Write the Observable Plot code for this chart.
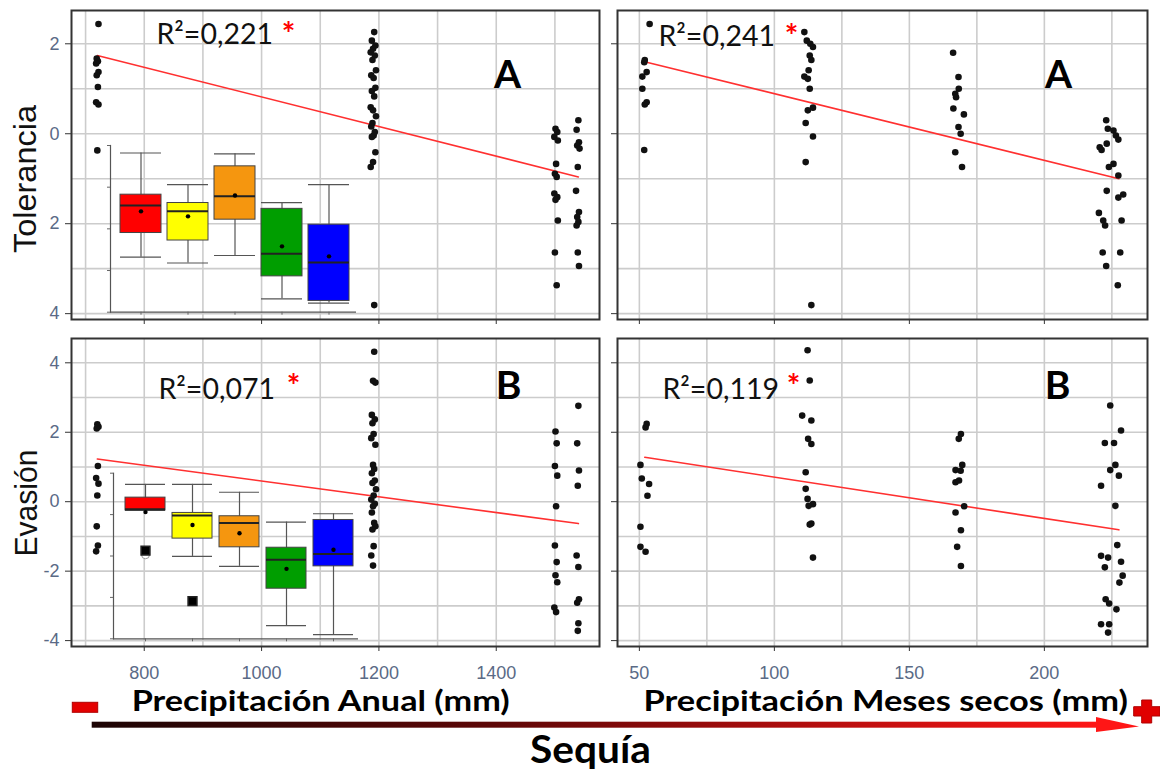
<!DOCTYPE html>
<html>
<head>
<meta charset="utf-8">
<script src="https://cdn.jsdelivr.net/npm/d3@7"></script>
<script src="https://cdn.jsdelivr.net/npm/@observablehq/plot@0.6"></script>
<style>
  html, body { margin: 0; padding: 0; background: #fff; }
  #chart { position: relative; width: 1160px; height: 776px; overflow: hidden; background: #fff; }
  #chart svg { position: absolute; }
</style>
</head>
<body>
<div id="chart"></div>
<script>
// ---------------- DATA ----------------
// Panel A-left: Tolerancia vs Precipitación Anual (mm)
const tolAnualX = [722,719,721,718,722,719,721,718,722,720,
  1192,1188,1194,1190,1186,1193,1189,1195,1187,1191,1194,1188,1192,1186,1190,1195,1189,1187,1193,1191,1188,1194,1190,1186,1192,
  1501,1504,1499,1505,1502,1500,1503,1499,1504,1501,1505,1500,1503,
  1540,1537,1541,1538,1542,1539,1536,1541,1538,1540,1537,1539,1541];
const tolAnualY = [2.44,1.67,1.61,1.56,1.37,1.30,1.04,0.70,0.65,-0.37,
  2.26,2.07,1.96,1.89,1.81,1.74,1.64,1.41,1.30,1.24,1.02,0.95,0.83,0.59,0.52,0.39,0.24,0.16,0.04,-0.04,-0.07,-0.41,-0.63,-0.74,-3.81,
  0.11,0.04,-0.07,-0.15,-0.67,-0.89,-0.96,-1.33,-1.41,-1.47,-1.93,-2.64,-3.37,
  0.30,0.09,-0.19,-0.26,-0.33,-0.74,-1.27,-1.74,-1.85,-1.96,-2.04,-2.64,-2.94];
// Panel A-right: Tolerancia vs Precipitación Meses secos (mm)
const tolSecosX = [53.8,52.0,51.8,52.7,51.1,51.1,52.7,52.0,51.8,
  111.1,112.0,113.3,114.3,113.1,113.7,112.7,111.1,112.4,113.1,114.3,112.4,111.6,114.3,111.6,113.7,
  166.2,168.2,168.3,167.0,167.3,166.3,170.2,168.2,169.0,167.0,169.5,
  222.9,223.5,225.6,226.5,227.4,220.5,221.2,223.1,225.6,223.9,227.4,223.1,227.4,229.2,220.2,221.8,222.5,228.6,221.6,228.1,222.9,227.2];
const tolSecosY = [2.44,1.64,1.59,1.37,1.27,1.00,0.70,0.65,-0.36,
  2.26,2.07,2.00,1.93,1.74,1.64,1.41,1.27,1.22,1.00,0.58,0.52,0.24,-0.06,-0.63,-3.81,
  1.80,1.26,1.00,0.89,0.81,0.56,0.43,0.15,0.00,-0.41,-0.74,
  0.30,0.11,0.07,-0.04,-0.13,-0.30,-0.36,-0.22,-0.67,-0.74,-0.93,-1.27,-1.42,-1.35,-1.76,-1.93,-2.04,-1.93,-2.64,-2.64,-2.94,-3.37];
// Panel B-left: Evasión vs Precipitación Anual (mm)
const evaAnualX = [720,722,719,721,718,722,720,719,721,718,
  1192,1190,1194,1188,1193,1189,1191,1187,1194,1190,1192,1188,1193,1189,1195,1191,1187,1193,1190,1188,1192,1194,1189,1191,1187,1190,
  1501,1503,1500,1504,1502,1500,1503,1501,1504,1499,1502,
  1540,1538,1541,1539,1537,1540,1541,1538,1540,1539];
const evaAnualY = [2.23,2.16,2.11,1.03,0.68,0.52,0.18,-0.71,-1.26,-1.43,
  4.32,3.48,3.43,2.50,2.37,2.26,1.95,1.83,1.64,1.06,0.94,0.82,0.61,0.54,0.36,0.18,0.06,-0.06,-0.13,-0.31,-0.61,-0.71,-0.80,-1.28,-1.55,-1.84,
  2.02,1.68,1.03,0.75,-0.13,-1.26,-1.74,-2.12,-2.32,-3.05,-3.18,
  2.76,1.68,0.90,0.46,-1.55,-1.88,-2.81,-2.91,-3.50,-3.72];
// Panel B-right: Evasión vs Precipitación Meses secos (mm)
const evaSecosX = [52.7,52.3,50.4,50.9,53.6,53.0,50.4,50.4,52.3,
  112.3,113.1,110.3,113.7,112.5,113.7,111.6,111.6,112.3,114.3,112.7,113.7,113.1,114.3,
  169.1,168.3,167.1,169.6,169.0,167.1,168.4,170.3,167.1,169.1,167.7,169.1,
  224.4,228.4,222.4,225.8,226.3,224.4,227.6,221.0,226.3,227.0,221.0,223.6,228.4,222.4,229.0,227.8,222.7,224.0,226.7,221.0,224.0,223.6];
const evaSecosY = [2.24,2.14,1.06,0.67,0.51,0.17,-0.72,-1.30,-1.44,
  4.36,3.49,2.48,2.34,1.81,1.66,0.85,0.37,0.08,-0.07,-0.12,-0.63,-0.66,-1.61,
  1.95,1.81,0.91,1.06,0.89,0.56,0.61,-0.13,-0.31,-0.82,-1.30,-1.85,
  2.77,2.05,1.69,1.69,1.06,0.91,0.75,0.46,-0.12,-1.25,-1.56,-1.61,-1.73,-1.89,-2.13,-2.33,-2.81,-2.93,-3.10,-3.53,-3.53,-3.77];

// Regression lines (end points)
const fitTolAnualX = [720, 1540],  fitTolAnualY = [1.74, -0.96];
const fitTolSecosX = [52.7, 227.6], fitTolSecosY = [1.59, -1.00];
const fitEvaAnualX = [720, 1540],  fitEvaAnualY = [1.23, -0.63];
const fitEvaSecosX = [52.0, 227.6], fitEvaSecosY = [1.28, -0.81];

// R² labels
const r2Labels = ["R²=0,221", "R²=0,241", "R²=0,071", "R²=0,119"];
const panelLetters = ["A", "A", "B", "B"];

// Axis ticks
const anualMajor = [800, 1000, 1200, 1400];
const anualMinor = [700, 900, 1100, 1300, 1500];
const secosMajor = [50, 100, 150, 200];
const secosMinor = [75, 125, 175, 225];
const tolMajor = [2, 0, -2, -4];
const tolMinor = [1, -1, -3];
const evaMajor = [4, 2, 0, -2, -4];
const evaMinor = [3, 1, -1, -3];

// Inset box plots (5 groups)
const groups = ["G1", "G2", "G3", "G4", "G5"];
const groupColors = ["#ff0000", "#ffff00", "#f5960f", "#009e00", "#0000ff"];
const tolBoxHi   = [-0.18, -0.94, -0.20, -1.37, -0.94];
const tolBoxQ3   = [-1.18, -1.38, -0.50, -1.52, -1.90];
const tolBoxMed  = [-1.44, -1.58, -1.22, -2.60, -2.81];
const tolBoxMean = [-1.58, -1.70, -1.20, -2.42, -2.66];
const tolBoxQ1   = [-2.10, -2.28, -1.78, -3.14, -3.73];
const tolBoxLo   = [-2.68, -2.82, -2.64, -3.68, -3.78];
const evaBoxHi   = [-0.27, -0.27, -0.46, -1.18, -0.98];
const evaBoxQ3   = [-0.59, -0.96, -1.04, -1.80, -1.13];
const evaBoxMed  = [-0.87, -1.02, -1.20, -2.09, -1.95];
const evaBoxMean = [-0.94, -1.25, -1.45, -2.31, -1.85];
const evaBoxQ1   = [-0.90, -1.58, -1.79, -2.79, -2.25];
const evaBoxLo   = [-0.90, -2.01, -2.25, -3.68, -3.90];
const evaOutGroup = ["G1", "G2"];
const evaOutY = [-1.87, -3.09];
const evaOpenGroup = ["G1"];
const evaOpenY = [-1.97];
const insetTicks = [-4, -3, -2, -1, 0];

// ---------------- DRAWING ----------------
const chart = document.getElementById("chart");
const labelColor = "#5a6a86";
const baseStyle = {background: "transparent", fontFamily: "'Liberation Sans', Arial, sans-serif", fontSize: "18px", overflow: "visible"};

function place(el, left, top) {
  el.style.left = left + "px";
  el.style.top = top + "px";
  chart.appendChild(el);
}

function zipPts(xs, ys) { return xs.map((x, i) => ({x, y: ys[i]})); }

function panel(o) {
  return Plot.plot({
    width: o.width, height: o.height,
    marginLeft: o.ml, marginRight: o.mr, marginTop: o.mt, marginBottom: o.mb,
    x: {domain: o.xDomain},
    y: {domain: o.yDomain},
    style: baseStyle,
    marks: [
      Plot.gridX(o.xMinor.concat(o.xMajor), {stroke: "#cccccc", strokeOpacity: 1, strokeWidth: 1.6}),
      Plot.gridY(o.yMinor.concat(o.yMajor), {stroke: "#cccccc", strokeOpacity: 1, strokeWidth: 1.6}),
      Plot.axisX({ticks: o.xMajor, tickSize: 5, tickPadding: 15, fontSize: 18, stroke: "#333", fill: labelColor,
        label: null, tickFormat: o.xLabels ? (d => String(d)) : (() => "")}),
      Plot.axisY({ticks: o.yMajor, tickSize: 6, tickPadding: 6, fontSize: 18, stroke: "#333", fill: labelColor,
        label: null, tickFormat: o.yFormat || (() => "")}),
      Plot.line(zipPts(o.fitX, o.fitY), {x: "x", y: "y", stroke: "#ff3030", strokeWidth: 1.6}),
      Plot.dot(zipPts(o.px, o.py), {x: "x", y: "y", r: 3.3, fill: "#111", stroke: "none"}),
      Plot.frame({stroke: "#333", strokeWidth: 2}),
      Plot.text([o.r2], {frameAnchor: "top-left", textAnchor: "start", lineAnchor: "bottom",
        dx: o.r2dx, dy: o.r2dy, fontSize: 28.5, fontFamily: "Lato, sans-serif", fill: "#111", text: d => d}),
      Plot.text(["*"], {frameAnchor: "top-left", textAnchor: "middle", lineAnchor: "bottom",
        dx: o.stdx, dy: o.stdy, fontSize: 32, fontWeight: "bold", fontFamily: "Lato, sans-serif", fill: "#ff0000", text: d => d}),
      Plot.text([o.letter], {frameAnchor: "top-left", textAnchor: "middle", lineAnchor: "bottom",
        dx: o.ldx, dy: o.ldy, fontSize: 39, fontWeight: "bold", fontFamily: "Lato, sans-serif", fill: "#000", text: d => d})
    ]
  });
}

function inset(o) {
  const rows = groups.map((g, i) => ({g, color: groupColors[i], hi: o.hi[i], q3: o.q3[i], med: o.med[i],
    mean: o.mean[i], q1: o.q1[i], lo: o.lo[i]}));
  const marks = [
    Plot.ruleX(rows, {x: "g", y1: "lo", y2: "hi", stroke: "#555", strokeWidth: 1.2}),
    Plot.tickY(rows, {x: "g", y: "hi", stroke: "#555", strokeWidth: 1.2}),
    Plot.tickY(rows, {x: "g", y: "lo", stroke: "#555", strokeWidth: 1.2}),
    Plot.barY(rows, {x: "g", y1: "q1", y2: "q3", fill: "color", stroke: "#444", strokeWidth: 1}),
    Plot.tickY(rows, {x: "g", y: "med", stroke: "#222", strokeWidth: 2}),
    Plot.dot(rows, {x: "g", y: "mean", r: 2.2, fill: "#000", stroke: "none"}),
    Plot.frame({anchor: "left", stroke: "#555", strokeWidth: 1.2}),
    Plot.ruleY([-4], {stroke: "#555", strokeWidth: 1.2}),
    Plot.axisY({ticks: insetTicks, tickSize: 3, tickFormat: () => "", stroke: "#666", label: null}),
    Plot.axisX({tickSize: 3, tickFormat: () => "", stroke: "#666", label: null})
  ];
  if (o.outG) {
    marks.push(Plot.dot(o.openG.map((g, i) => ({g, y: o.openY[i]})), {x: "g", y: "y", r: 4, fill: "#fff", stroke: "#999", strokeWidth: 1}));
    marks.push(Plot.dot(o.outG.map((g, i) => ({g, y: o.outY[i]})), {x: "g", y: "y", symbol: "square", r: 5, fill: "#000", stroke: "#222"}));
  }
  return Plot.plot({
    width: o.width, height: o.height,
    marginLeft: o.ml, marginRight: o.mr, marginTop: o.mt, marginBottom: o.mb,
    x: {type: "band", domain: groups, range: o.xRange, padding: o.pad, axis: null},
    y: {domain: [-4, 0], axis: null},
    color: {type: "identity"},
    style: baseStyle,
    marks
  });
}

// Top-left: Tolerancia vs anual
place(panel({width: 600, height: 330, ml: 71, mr: 1, mt: 10, mb: 11,
  xDomain: [676, 1576], yDomain: [-4.13, 2.74],
  xMajor: anualMajor, xMinor: anualMinor, yMajor: tolMajor, yMinor: tolMinor,
  xLabels: false, yFormat: d => String(Math.abs(d)),
  px: tolAnualX, py: tolAnualY, fitX: fitTolAnualX, fitY: fitTolAnualY,
  r2: r2Labels[0], r2dx: 85, r2dy: 33, stdx: 217, stdy: 35, letter: panelLetters[0], ldx: 436, ldy: 77}), 0, 0);

// Top-right: Tolerancia vs meses secos
place(panel({width: 560, height: 330, ml: 17, mr: 13, mt: 10, mb: 11,
  xDomain: [41.9, 238.2], yDomain: [-4.13, 2.74],
  xMajor: secosMajor, xMinor: secosMinor, yMajor: tolMajor, yMinor: tolMinor,
  xLabels: false, yFormat: null,
  px: tolSecosX, py: tolSecosY, fitX: fitTolSecosX, fitY: fitTolSecosY,
  r2: r2Labels[1], r2dx: 41, r2dy: 35, stdx: 174, stdy: 37, letter: panelLetters[1], ldx: 441, ldy: 77}), 600, 0);

// Bottom-left: Evasión vs anual
place(panel({width: 600, height: 360, ml: 71, mr: 1, mt: 8, mb: 44,
  xDomain: [676, 1576], yDomain: [-4.17, 4.70],
  xMajor: anualMajor, xMinor: anualMinor, yMajor: evaMajor, yMinor: evaMinor,
  xLabels: true, yFormat: d => String(d),
  px: evaAnualX, py: evaAnualY, fitX: fitEvaAnualX, fitY: fitEvaAnualY,
  r2: r2Labels[2], r2dx: 87, r2dy: 60, stdx: 222, stdy: 59, letter: panelLetters[2], ldx: 437, ldy: 60}), 0, 330);

// Bottom-right: Evasión vs meses secos
place(panel({width: 560, height: 360, ml: 17, mr: 13, mt: 8, mb: 44,
  xDomain: [41.9, 238.2], yDomain: [-4.17, 4.70],
  xMajor: secosMajor, xMinor: secosMinor, yMajor: evaMajor, yMinor: evaMinor,
  xLabels: true, yFormat: null,
  px: evaSecosX, py: evaSecosY, fitX: fitEvaSecosX, fitY: fitEvaSecosY,
  r2: r2Labels[3], r2dx: 45, r2dy: 60, stdx: 176, stdy: 59, letter: panelLetters[3], ldx: 440, ldy: 60}), 600, 330);

// Insets
place(inset({width: 600, height: 330, ml: 110, mr: 244, mt: 145, mb: 18.3, xRange: [111, 357], pad: 0.13,
  hi: tolBoxHi, q3: tolBoxQ3, med: tolBoxMed, mean: tolBoxMean, q1: tolBoxQ1, lo: tolBoxLo}), 0, 0);
place(inset({width: 600, height: 360, ml: 113, mr: 242, mt: 142.7, mb: 51.7, xRange: [115.8, 362.5], pad: 0.146,
  hi: evaBoxHi, q3: evaBoxQ3, med: evaBoxMed, mean: evaBoxMean, q1: evaBoxQ1, lo: evaBoxLo,
  outG: evaOutGroup, outY: evaOutY, openG: evaOpenGroup, openY: evaOpenY}), 0, 330);

// Decorations: axis titles, bottom labels, drought arrow
const deco = document.createElementNS("http://www.w3.org/2000/svg", "svg");
deco.setAttribute("width", 1160);
deco.setAttribute("height", 776);
deco.style.pointerEvents = "none";
deco.innerHTML = `
  <defs>
    <linearGradient id="sequia" x1="0" x2="1" y1="0" y2="0">
      <stop offset="0" stop-color="#1c0404"/>
      <stop offset="0.4" stop-color="#5e0707"/>
      <stop offset="0.7" stop-color="#b00d0d"/>
      <stop offset="1" stop-color="#ff1616"/>
    </linearGradient>
  </defs>
  <text transform="translate(36,179) rotate(-90)" text-anchor="middle" font-family="'Liberation Sans', Arial, sans-serif" font-size="31" textLength="148" lengthAdjust="spacingAndGlyphs" fill="#111">Tolerancia</text>
  <text transform="translate(37,503) rotate(-90)" text-anchor="middle" font-family="'Liberation Sans', Arial, sans-serif" font-size="31" textLength="107" lengthAdjust="spacingAndGlyphs" fill="#111">Evasión</text>
  <text x="131.7" y="711" font-family="Lato, sans-serif" font-weight="bold" font-size="28" textLength="378" lengthAdjust="spacingAndGlyphs" fill="#000">Precipitación Anual (mm)</text>
  <text x="643.5" y="711" font-family="Lato, sans-serif" font-weight="bold" font-size="28" textLength="484.5" lengthAdjust="spacingAndGlyphs" fill="#000">Precipitación Meses secos (mm)</text>
  <text x="530" y="763" font-family="Lato, sans-serif" font-weight="bold" font-size="38" textLength="121" lengthAdjust="spacingAndGlyphs" fill="#000">Sequía</text>
  <rect x="72.3" y="702.3" width="25.4" height="10" fill="#e40000" stroke="#b00000" stroke-width="1"/>
  <rect x="91.7" y="721.7" width="1008" height="6" fill="url(#sequia)"/>
  <polygon points="1096,717 1139,726.5 1096,732" fill="#ff1616"/>
  <path d="M1141.7,700 h10 v6.7 h8.3 v9.3 h-8.3 v7 h-10 v-7 h-8 v-9.3 h8 z" fill="#e00000" stroke="#b00000" stroke-width="1"/>
`;
place(deco, 0, 0);
</script>
</body>
</html>
